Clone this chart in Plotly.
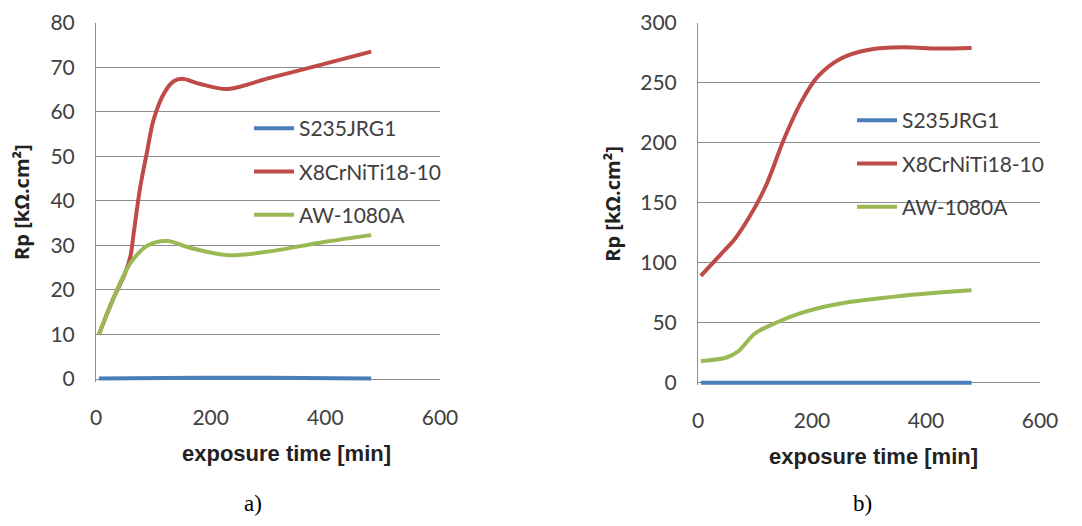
import plotly.graph_objects as go

# ---- data (a) ----
series_names = ["S235JRG1", "X8CrNiTi18-10", "AW-1080A"]

a_blue_t = [5, 120, 240, 360, 480]
a_blue_rp = [0.1, 0.2, 0.3, 0.2, 0.1]
a_red_t = [5, 30, 50, 60, 66, 77, 89, 100, 118, 135, 150, 180, 230, 300, 400, 480]
a_red_rp = [10, 18, 23.5, 27.5, 33, 43, 51, 58, 64, 66.8, 67.4, 66.3, 65.1, 67.5, 70.8, 73.5]
a_green_t = [5, 30, 60, 90, 125, 160, 230, 300, 400, 480]
a_green_rp = [10, 18, 26, 30, 31, 29.6, 27.8, 28.6, 30.8, 32.3]

# ---- data (b) ----
b_blue_t = [5, 120, 240, 360, 480]
b_blue_rp = [0, 0, 0, 0, 0]
b_red_t = [5, 40, 65, 90, 120, 150, 180, 210, 250, 300, 360, 420, 480]
b_red_rp = [89, 107, 120, 138, 165, 202, 233, 255, 270, 277.5, 279.5, 278.5, 279]
b_green_t = [5, 50, 70, 100, 135, 180, 250, 360, 480]
b_green_rp = [18, 21, 26, 41, 49.5, 58, 66, 72.5, 77]

x_ticks = [0, 200, 400, 600]
a_y_ticks = [0, 10, 20, 30, 40, 50, 60, 70, 80]
b_y_ticks = [0, 50, 100, 150, 200, 250, 300]

x_title = "exposure time [min]"
y_title = "Rp [kΩ.cm²]"
panel_labels = ["a)", "b)"]

colors = ["#4A7EBB", "#BE4B48", "#98B954"]
FONT = "Lato, 'Open Sans', sans-serif"

fig = go.Figure()

def add(t, v, name, color, xa, ya, legend, group):
    fig.add_trace(go.Scatter(
        x=t, y=v, name=name, mode="lines",
        line=dict(color=color, width=4, shape="spline", smoothing=0.9),
        xaxis=xa, yaxis=ya, legend=legend, legendgroup=group,
        cliponaxis=False, hoverinfo="skip"))

add(a_blue_t, a_blue_rp, series_names[0], colors[0], "x", "y", "legend", "a1")
add(a_red_t, a_red_rp, series_names[1], colors[1], "x", "y", "legend", "a2")
add(a_green_t, a_green_rp, series_names[2], colors[2], "x", "y", "legend", "a3")
add(b_blue_t, b_blue_rp, series_names[0], colors[0], "x2", "y2", "legend2", "b1")
add(b_red_t, b_red_rp, series_names[1], colors[1], "x2", "y2", "legend2", "b2")
add(b_green_t, b_green_rp, series_names[2], colors[2], "x2", "y2", "legend2", "b3")

# page has an 8px body margin; figure sized so it fits the 1082x526 window
OFF = 8
W, H = 1082 - 2 * OFF, 526 - 2 * OFF

def px(x):
    return (x - OFF) / W

def py(y):
    return 1 - (y - OFF) / H

tickfont = dict(family=FONT, size=21, color="#404040")
xtitlefont = dict(family="'Liberation Sans', Arial, sans-serif", size=22, color="#222222", weight="bold")
ytitlefont = dict(family="'Open Sans', sans-serif", size=20, color="#222222", weight="bold")

def xaxis(dom, anchor):
    return dict(domain=dom, anchor=anchor, range=[0, 600], tickvals=x_ticks,
                showgrid=False, zeroline=False, showline=False, ticks="",
                automargin=False,
                tickfont=tickfont, ticklabelstandoff=21)

def yaxis(dom, anchor, rng, tv, standoff):
    return dict(domain=dom, anchor=anchor, range=rng, tickvals=tv,
                showgrid=True, gridcolor="#8C8C8C", gridwidth=1,
                zeroline=False, showline=True, linecolor="#8C8C8C", linewidth=1,
                automargin=False,
                ticks="", tickfont=tickfont, ticklabelstandoff=16,
                title=dict(text=y_title, font=ytitlefont, standoff=standoff))

legfont = dict(family=FONT, size=21, color="#404040")

# slight negative range so the zero-level line is not half clipped
a_pad = 2.5 / ((379 - 22.7) / 80)
b_pad = 2.5 / ((382.7 - 22.7) / 300)

fig.update_layout(
    width=W, height=H,
    margin=dict(l=0, r=0, t=0, b=0),
    paper_bgcolor="white", plot_bgcolor="white",
    xaxis=xaxis([px(96), px(440)], "y"),
    yaxis=yaxis([py(381.5), py(22.7)], "x", [-a_pad, 80], a_y_ticks, 18),
    xaxis2=xaxis([px(698), px(1040)], "y2"),
    yaxis2=yaxis([py(385.2), py(22.7)], "x2", [-b_pad, 300], b_y_ticks, 14),
    legend=dict(x=px(249), y=py(108), xanchor="left", yanchor="top",
                bgcolor="rgba(0,0,0,0)", font=legfont, tracegroupgap=13,
                itemwidth=40),
    legend2=dict(x=px(852), y=py(100), xanchor="left", yanchor="top",
                 bgcolor="rgba(0,0,0,0)", font=legfont, tracegroupgap=13,
                 itemwidth=40),
    showlegend=True,
    annotations=[
        dict(text=x_title, x=px(286), y=py(453), xref="paper", yref="paper",
             xanchor="center", yanchor="middle", showarrow=False, font=xtitlefont),
        dict(text=x_title, x=px(873), y=py(456), xref="paper", yref="paper",
             xanchor="center", yanchor="middle", showarrow=False, font=xtitlefont),
        dict(text=panel_labels[0], x=px(253), y=0, xref="paper", yref="paper",
             xanchor="center", yanchor="bottom", showarrow=False,
             font=dict(family="'Liberation Serif', serif", size=23, color="black")),
        dict(text=panel_labels[1], x=px(862), y=0, xref="paper", yref="paper",
             xanchor="center", yanchor="bottom", showarrow=False,
             font=dict(family="'Liberation Serif', serif", size=23, color="black")),
    ],
)

fig.write_html("out.html")
